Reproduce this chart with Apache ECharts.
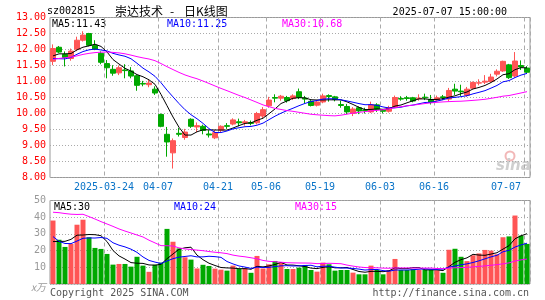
<!DOCTYPE html>
<html><head><meta charset="utf-8">
<script src="https://cdn.jsdelivr.net/npm/echarts@6/dist/echarts.min.js"></script>
<style>html,body{margin:0;padding:0;background:#fff}#c{width:545px;height:300px}</style>
</head><body><div id="c"></div>
<script>
const dates = ['2025-03-11','2025-03-12','2025-03-13','2025-03-14','2025-03-17','2025-03-18','2025-03-19','2025-03-20','2025-03-21','2025-03-24','2025-03-25','2025-03-26','2025-03-27','2025-03-28','2025-03-31','2025-04-01','2025-04-02','2025-04-03','2025-04-07','2025-04-08','2025-04-09','2025-04-10','2025-04-11','2025-04-14','2025-04-15','2025-04-16','2025-04-17','2025-04-18','2025-04-21','2025-04-22','2025-04-23','2025-04-24','2025-04-25','2025-04-28','2025-04-29','2025-04-30','2025-05-06','2025-05-07','2025-05-08','2025-05-09','2025-05-12','2025-05-13','2025-05-14','2025-05-15','2025-05-16','2025-05-19','2025-05-20','2025-05-21','2025-05-22','2025-05-23','2025-05-26','2025-05-27','2025-05-28','2025-05-29','2025-05-30','2025-06-03','2025-06-04','2025-06-05','2025-06-06','2025-06-09','2025-06-10','2025-06-11','2025-06-12','2025-06-13','2025-06-16','2025-06-17','2025-06-18','2025-06-19','2025-06-20','2025-06-23','2025-06-24','2025-06-25','2025-06-26','2025-06-27','2025-06-30','2025-07-01','2025-07-02','2025-07-03','2025-07-04','2025-07-07'];
const opens  = [11.63,12.07,11.85,11.72,12.01,12.29,12.50,12.13,11.88,11.56,11.38,11.27,11.36,11.33,11.18,10.94,10.90,10.76,9.97,9.35,8.77,9.38,9.25,9.82,9.58,9.60,9.36,9.24,9.48,9.62,9.67,9.74,9.70,9.72,9.71,9.92,10.24,10.50,10.48,10.50,10.47,10.68,10.48,10.38,10.26,10.36,10.56,10.52,10.28,10.22,10.00,10.18,10.11,10.05,10.27,10.10,10.07,10.20,10.47,10.49,10.49,10.46,10.51,10.44,10.42,10.52,10.45,10.76,10.70,10.57,10.79,10.95,10.98,11.00,11.23,11.33,11.52,11.17,11.50,11.42];
const closes = [12.03,11.92,11.75,11.95,12.29,12.45,12.13,12.01,11.60,11.43,11.26,11.43,11.34,11.17,10.88,10.92,10.95,10.64,9.60,9.11,9.15,9.35,9.42,9.60,9.62,9.47,9.33,9.40,9.60,9.60,9.80,9.71,9.74,9.69,10.00,10.12,10.42,10.48,10.54,10.40,10.55,10.50,10.45,10.25,10.36,10.55,10.53,10.44,10.25,10.05,10.14,10.08,10.09,10.28,10.13,10.07,10.18,10.50,10.45,10.47,10.39,10.48,10.49,10.35,10.49,10.50,10.72,10.70,10.68,10.76,10.97,10.96,11.01,11.14,11.32,11.63,11.12,11.64,11.45,11.29];
const lows   = [11.51,11.89,11.47,11.65,11.95,12.25,12.10,11.98,11.54,11.10,11.18,11.20,11.10,11.10,10.71,10.85,10.82,10.58,9.57,8.65,8.28,9.28,9.18,9.55,9.42,9.35,9.25,9.20,9.42,9.52,9.63,9.60,9.62,9.63,9.66,9.85,10.18,10.35,10.40,10.34,10.42,10.45,10.32,10.22,10.22,10.32,10.37,10.38,10.18,9.98,9.92,9.98,10.00,10.02,10.05,10.00,10.03,10.18,10.40,10.40,10.35,10.40,10.42,10.28,10.38,10.42,10.38,10.58,10.55,10.52,10.76,10.88,10.92,10.97,11.16,11.30,11.08,11.12,11.36,11.24];
const highs  = [12.16,12.11,11.94,12.03,12.40,12.57,12.52,12.29,11.94,11.67,11.51,11.50,11.54,11.45,11.22,11.02,11.05,10.85,10.00,9.58,9.22,9.55,9.52,9.85,9.72,9.65,9.48,9.48,9.63,9.70,9.85,9.84,9.80,9.78,10.05,10.20,10.52,10.60,10.58,10.55,10.60,10.78,10.55,10.42,10.40,10.62,10.60,10.55,10.40,10.30,10.20,10.22,10.18,10.37,10.32,10.14,10.24,10.56,10.54,10.55,10.52,10.60,10.62,10.58,10.56,10.58,10.80,10.93,10.90,10.83,11.00,11.07,11.20,11.24,11.38,11.65,11.55,11.92,11.66,11.48];
const volumes = [38,26.5,22.2,24,35.5,38.5,28,21.6,21,18,11.6,12,12,10.4,16.3,11,7.3,11.5,12.8,33,25.3,21.3,16,14.6,9.3,11.5,10.8,9.2,8.6,8.0,11,9,9.4,6.7,16.8,9.3,11.8,13.8,13,9,9,9.8,11.4,8.4,7.4,12.8,11.8,8,8.4,8.4,6.8,5.8,5.8,11,8.4,5.8,8.4,15,8.4,8.4,8.8,8.4,8.4,8.4,8.2,6.7,20.5,21.1,16.3,13.7,17.2,18.3,20.4,20,17.8,28,28.5,41,29,24];
// sessions before the visible window (needed only for the moving averages)
const priorCloses = [11.0,11.1,11.3,11.2,11.05,11.15,11.3,11.2,11.3,11.6,11.9,12.2,12.4,12.3,12.1,12.0,12.2,12.3,12.0,11.9,12.0,11.8,11.5,11.3,11.6,11.6,11.75,11.9,11.72];
const priorVolumes = [34,38,36,40,35,70,65,68,60,55,58,50,45,52,47,65,60,62,35,30,55,35,25,20,22,26,22,18,23];
const tickDates  = ['2025-03-24','2025-04-07','2025-04-21','2025-05-06','2025-05-19','2025-06-03','2025-06-16','2025-07-07'];
const tickLabels = ['2025-03-24','04-07','04-21','05-06','05-19','06-03','06-16','07-07'];

function ma(prior, vals, n) {
  const all = prior.concat(vals), off = prior.length;
  return vals.map((_, i) => {
    const end = off + i;
    if (end - n + 1 < 0) return '-';
    let s = 0;
    for (let k = end - n + 1; k <= end; k++) s += all[k];
    return +(s / n).toFixed(4);
  });
}
const ma5 = ma(priorCloses, closes, 5), ma10 = ma(priorCloses, closes, 10), ma30 = ma(priorCloses, closes, 30);
const vma5 = ma(priorVolumes, volumes, 5), vma10 = ma(priorVolumes, volumes, 10), vma30 = ma(priorVolumes, volumes, 30);
const last = a => a[a.length - 1];

const UP = '#FF5555', DOWN = '#00A800';
const FONT = 'DejaVu Sans Mono';
const tickIdx = tickDates.map(d => dates.indexOf(d));
const showTick = i => tickIdx.indexOf(i) >= 0;

const candleData = dates.map((d, i) => [opens[i], closes[i], lows[i], highs[i]]);
const volData = volumes.map((v, i) => ({value: v, itemStyle: {color: closes[i] >= opens[i] ? UP : DOWN}}));

const split = {show: true, interval: (i) => showTick(i), lineStyle: {color: '#aaa', type: [4, 3], width: 1}};
const lineS = (name, data, color, xi) => ({name, type: 'line', data, xAxisIndex: xi, yAxisIndex: xi,
  showSymbol: false, symbol: 'none', lineStyle: {color, width: 1}, itemStyle: {color}, silent: true});

const txt = (x, y, text, fill, extra) => Object.assign({type: 'text', x, y,
  style: Object.assign({text, fill, font: '10px "' + FONT + '"', textVerticalAlign: 'middle'}, extra || {})});

const chart = echarts.init(document.getElementById('c'));
chart.setOption({
  animation: false,
  backgroundColor: '#fff',
  grid: [
    {left: 50, top: 17.5, width: 480, height: 160, show: true, borderColor: '#999', borderWidth: 1, backgroundColor: 'transparent'},
    {left: 50, top: 200.5, width: 480, height: 83.5, show: true, borderColor: '#999', borderWidth: 1, backgroundColor: 'transparent'}
  ],
  xAxis: [
    {type: 'category', data: dates, gridIndex: 0, boundaryGap: true,
     axisLine: {show: false}, axisTick: {show: false},
     axisLabel: {interval: (i) => showTick(i), formatter: (v) => { const k = tickDates.indexOf(v); return k >= 0 ? tickLabels[k] : ''; },
       color: '#0a74c8', fontFamily: FONT, fontSize: 10, margin: 5, padding: [0, 6, 0, 0], alignMaxLabel: 'right'},
     splitLine: split},
    {type: 'category', data: dates, gridIndex: 1, boundaryGap: true,
     axisLine: {show: false}, axisTick: {show: false}, axisLabel: {show: false}, splitLine: split}
  ],
  yAxis: [
    {type: 'value', gridIndex: 0, min: 8, max: 13, interval: 0.5, scale: true,
     axisLine: {show: false}, axisTick: {show: false},
     axisLabel: {formatter: (v) => v.toFixed(2), color: '#ff0000', fontFamily: FONT, fontSize: 10, margin: 4},
     splitLine: {lineStyle: {color: '#aaa', type: [1, 2], width: 1}}},
    {type: 'value', gridIndex: 1, min: 0, max: 50, interval: 10,
     axisLine: {show: false}, axisTick: {show: false},
     axisLabel: {formatter: (v) => v === 0 ? '{u|x万}' : String(v), color: '#999', fontFamily: FONT, fontSize: 10, margin: 4,
       rich: {u: {fontStyle: 'italic', color: '#999', fontSize: 10, fontFamily: 'Noto Sans CJK SC', padding: [6, 0, 0, 0]}}},
     splitLine: {lineStyle: {color: '#aaa', type: [1, 2], width: 1}}}
  ],
  series: [
    {name: 'K', type: 'candlestick', data: candleData, xAxisIndex: 0, yAxisIndex: 0, barWidth: 5, silent: true,
     itemStyle: {color: UP, color0: DOWN, borderColor: UP, borderColor0: DOWN, borderWidth: 1}},
    lineS('MA5', ma5, '#000000', 0),
    lineS('MA10', ma10, '#0000FF', 0),
    lineS('MA30', ma30, '#FF00FF', 0),
    {name: 'VOL', type: 'bar', data: volData, xAxisIndex: 1, yAxisIndex: 1, barWidth: 5, silent: true},
    lineS('VMA5', vma5, '#000000', 1),
    lineS('VMA10', vma10, '#0000FF', 1),
    lineS('VMA30', vma30, '#FF00FF', 1)
  ],
  graphic: [
    txt(47, 11, 'sz002815', '#000'),
    {type: 'text', x: 115, y: 11, style: {text: '崇达技术', fill: '#000', font: '12px "Noto Sans CJK SC"', textVerticalAlign: 'middle'}},
    {type: 'text', x: 170, y: 11, style: {text: '-', fill: '#000', font: '12px "Noto Sans CJK SC"', textVerticalAlign: 'middle'}},
    {type: 'text', x: 184, y: 11, style: {text: '日K线图', fill: '#000', font: '12px "Noto Sans CJK SC"', textVerticalAlign: 'middle'}},
    txt(507, 12, '2025-07-07 15:00:00', '#000', {textAlign: 'right'}),
    txt(52, 24, 'MA5:' + last(ma5).toFixed(2), '#000'),
    txt(167, 24, 'MA10:' + last(ma10).toFixed(2), '#0000FF'),
    txt(282, 24, 'MA30:' + last(ma30).toFixed(2), '#FF00FF'),
    txt(54, 207, 'MA5:' + Math.round(last(vma5)), '#000'),
    txt(174, 207, 'MA10:' + Math.round(last(vma10)), '#0000FF'),
    txt(295, 207, 'MA30:' + Math.round(last(vma30)), '#FF00FF'),
    txt(50, 293, 'Copyright 2025 SINA.COM', '#555'),
    txt(529, 293, 'http://finance.sina.com.cn', '#555', {textAlign: 'right'}),
    {type: 'circle', shape: {cx: 510, cy: 156, r: 4.5}, style: {fill: 'none', stroke: '#f2b8b8', lineWidth: 2}},
    {type: 'text', x: 496, y: 166, style: {text: 'sina', fill: '#cfcfcf', font: 'italic bold 15px "DejaVu Sans"', textVerticalAlign: 'middle'}}
  ]
});
</script></body></html>
